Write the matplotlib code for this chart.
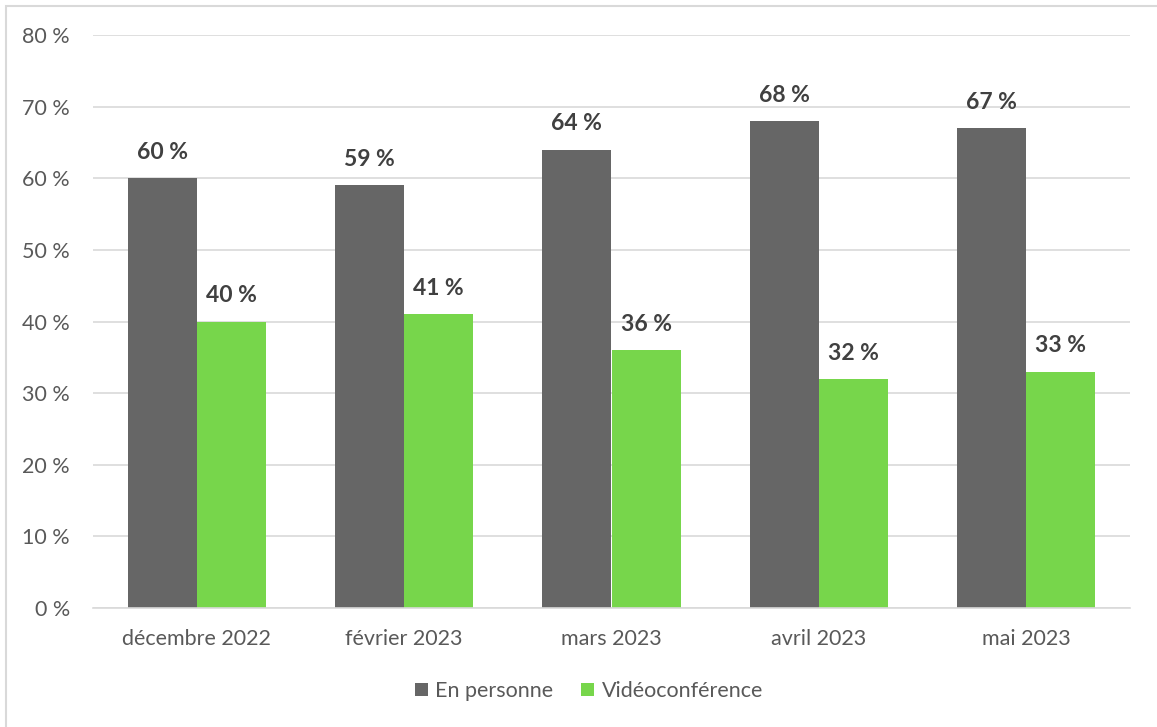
import numpy as np
import matplotlib.pyplot as plt
from matplotlib.patches import Rectangle

# donnees
mois = ['décembre 2022', 'février 2023', 'mars 2023', 'avril 2023', 'mai 2023']
en_personne = [60, 59, 64, 68, 67]
video = [40, 41, 36, 32, 33]

gris = '#666666'
vert = '#77D64B'
texte = '#595959'

plt.rcParams['font.family'] = ['Lato', 'DejaVu Sans']

fig = plt.figure(figsize=(11.57, 7.27), dpi=100)
ax = fig.add_axes([93/1157, 1 - 608/727, (1130-93)/1157, (608-35)/727])

# cadre gris du graphique (coupe a droite et en bas)
fig.patches.append(Rectangle((6/1157, -0.1), 1.2, 1 - 6/727 + 0.1,
                             transform=fig.transFigure, fill=False,
                             edgecolor='#D9D9D9', linewidth=1.5))

x = np.arange(len(mois))
w = 1/3
b1 = ax.bar(x - w/2, en_personne, w, color=gris, label='En personne', zorder=2)
b2 = ax.bar(x + w/2, video, w, color=vert, label='Vidéoconférence', zorder=2)

for bars, vals in ((b1, en_personne), (b2, video)):
    for b, v in zip(bars, vals):
        ax.annotate(f'{v} %', (b.get_x() + b.get_width()/2, v),
                    xytext=(0, 11), textcoords='offset points',
                    ha='center', va='bottom', fontsize=16.5, fontweight='bold',
                    color='#404040')

ax.set_xlim(-0.5, len(mois) - 0.5)
ax.set_ylim(0, 80)
ax.set_yticks(range(0, 81, 10))
ax.set_yticklabels([f'{t} %' for t in range(0, 81, 10)])
ax.set_xticks(x)
ax.set_xticklabels(mois)
ax.tick_params(length=0, labelsize=15.5, colors=texte)
ax.tick_params(axis='y', pad=16.5)
ax.tick_params(axis='x', pad=15)
ax.grid(axis='y', color='#D9D9D9', linewidth=1.2, zorder=0)
for s in ['top', 'right', 'left']:
    ax.spines[s].set_visible(False)
ax.spines['bottom'].set_color('#D9D9D9')
ax.spines['bottom'].set_linewidth(1.2)

leg = fig.legend(loc='center', bbox_to_anchor=(589/1157, 1 - 691/727), ncol=2,
                 frameon=False, fontsize=15.5, handlelength=0.6, handleheight=0.6,
                 columnspacing=1.3, handletextpad=0.35)
for t in leg.get_texts():
    t.set_color(texte)

fig.savefig('out.png', dpi=100)
